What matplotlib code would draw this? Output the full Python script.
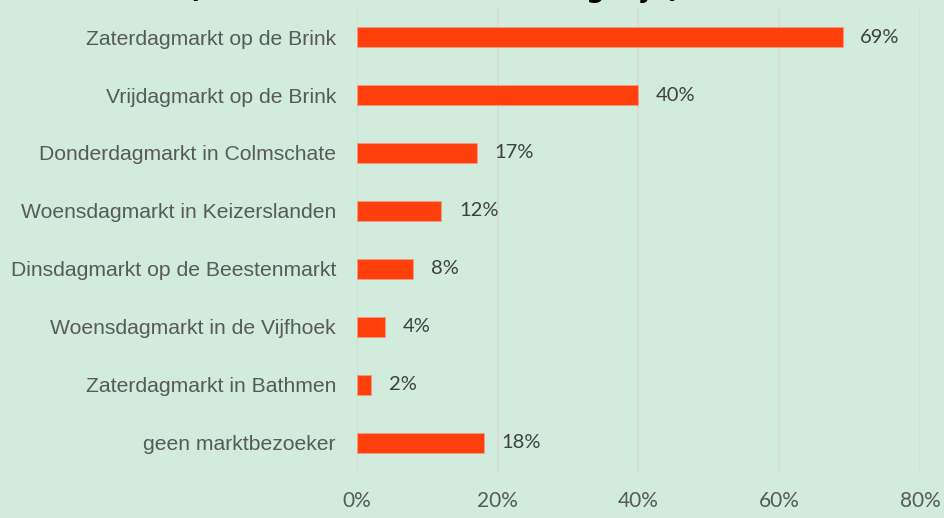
import matplotlib.pyplot as plt
import numpy as np

categories = ["Zaterdagmarkt op de Brink", "Vrijdagmarkt op de Brink", "Donderdagmarkt in Colmschate",
              "Woensdagmarkt in Keizerslanden", "Dinsdagmarkt op de Beestenmarkt",
              "Woensdagmarkt in de Vijfhoek", "Zaterdagmarkt in Bathmen", "geen marktbezoeker"]
values = [69, 40, 17, 12, 8, 4, 2, 18]
xticks = [0, 20, 40, 60, 80]
title = "(meerdere antwoorden mogelijk)"

bg = "#d1ecdd"
fig = plt.figure(figsize=(9.44, 5.18), dpi=100, facecolor=bg)
ax = fig.add_axes([0.378, 0.089, 0.5966, 0.8955], facecolor=bg)

y = np.arange(len(categories))
ax.barh(y, values, height=0.34, color="#ff400c", edgecolor="#f59a85", linewidth=0.6, zorder=3)
for yi, v in zip(y, values):
    ax.text(v + 2.5, yi, f"{v}%", va="center", ha="left", fontsize=14.5, color="#404040", family="Lato")

ax.set_ylim(len(categories) - 0.5, -0.5)
ax.set_xlim(0, 80)
ax.set_yticks(y)
ax.set_yticklabels(categories, fontsize=15.2, color="#595959", family="Liberation Sans")
ax.set_xticks(xticks)
ax.set_xticklabels([f"{t}%" for t in xticks], fontsize=15, color="#595959", family="Lato")
ax.tick_params(axis="both", length=0)
ax.tick_params(axis="x", pad=14)
ax.tick_params(axis="y", pad=15)
ax.grid(axis="x", color="#d9d9d9", linewidth=1.2, zorder=0)
for s in ax.spines.values():
    s.set_visible(False)

fig.text(188 / 944, 1 + 3 / 518, title, ha="left", va="baseline", fontsize=19, fontweight="bold", color="black")

fig.savefig("out.png", dpi=100, facecolor=bg)
